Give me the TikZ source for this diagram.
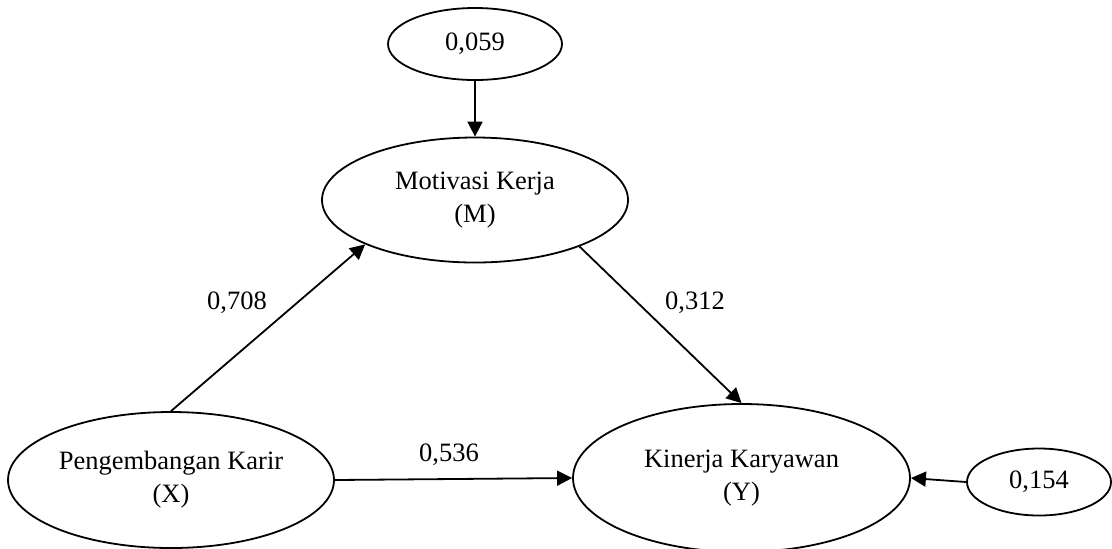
\documentclass[tikz,border=0pt]{standalone}
\usepackage{fontspec}
\setmainfont{Liberation Serif}
\usetikzlibrary{shapes.geometric,arrows.meta}
\begin{document}
\begin{tikzpicture}[x=0.5pt,y=-0.5pt,
  every node/.style={font=\fontsize{13.25}{16.5}\selectfont},
  var/.style={draw,ellipse,line width=0.9pt,inner sep=0pt,align=center},
  arr/.style={line width=0.9pt,-{Triangle[length=7.5pt,width=7.5pt]}},
  lbl/.style={inner sep=0pt}]
\useasboundingbox (0,0) rectangle (1112,548);
\clip (0,0) rectangle (1112,548);
\node[var,minimum width=87pt,minimum height=36pt] (T) at (475,44) {0,059};
\node[var,minimum width=153pt,minimum height=62.5pt] (M) at (475,200) {Motivasi Kerja\\(M)};
\node[var,minimum width=163pt,minimum height=68pt] (X) at (171,480) {Pengembangan Karir\\(X)};
\node[var,minimum width=168.5pt,minimum height=74pt] (Y) at (741.5,478) {Kinerja Karyawan\\(Y)};
\node[var,minimum width=72pt,minimum height=33.5pt] (E) at (1039,482) {0,154};
\draw[arr] (T) -- (M);
\draw[arr] (X.north) -- (M.202.6);
\draw[arr] (M.336.5) -- (Y.north);
\draw[arr] (X.east) -- (Y.west);
\draw[arr] (E.west) -- (Y.east);
\node[lbl] (l1) at (237,303) {0,708};
\node[lbl] (l2) at (695,303) {0,312};
\node[lbl] (l3) at (449,455) {0,536};
\end{tikzpicture}
\end{document}
